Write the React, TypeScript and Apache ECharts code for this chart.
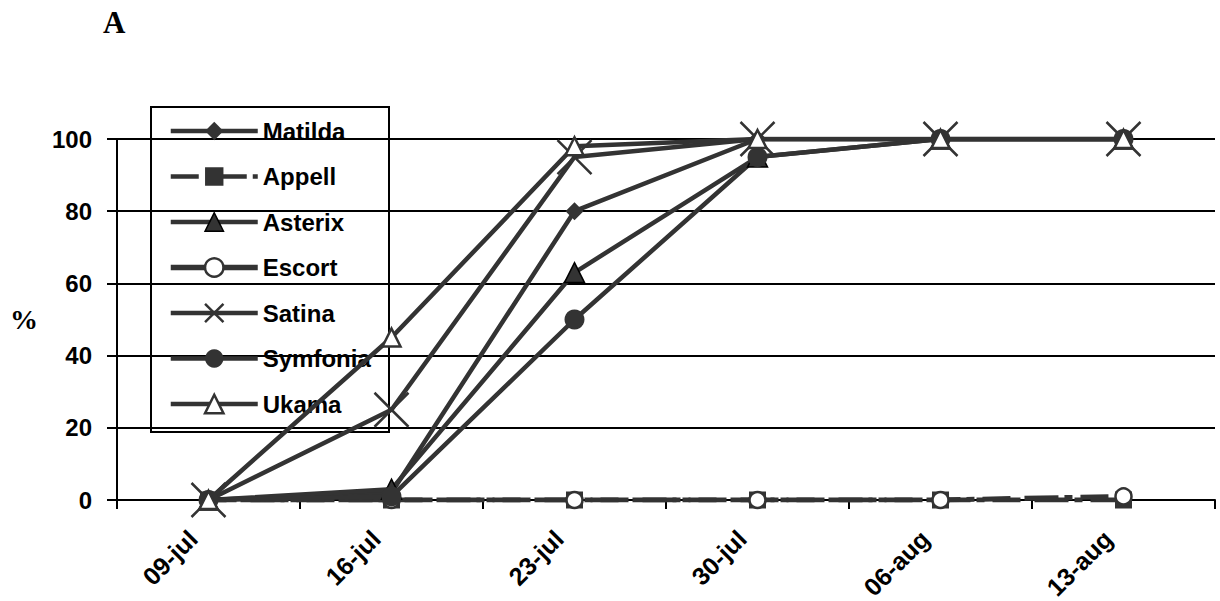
import React, { useEffect, useRef } from "react";
import * as echarts from "echarts";

// Sampling dates
const dates = ["09-jul", "16-jul", "23-jul", "30-jul", "06-aug", "13-aug"];

// Share (%) per variety on each date
const matilda = [0, 2, 80, 100, 100, 100];
const appell = [0, 0, 0, 0, 0, 0];
const asterix = [0, 3, 63, 95, 100, 100];
const escort = [0, 0, 0, 0, 0, 1];
const satina = [0, 25, 95, 100, 100, 100];
const symfonia = [0, 1, 50, 95, 100, 100];
const ukama = [0, 45, 98, 100, 100, 100];

const yTicks = [0, 20, 40, 60, 80, 100];

const INK = "#333333";
const FONT = "'Liberation Sans', Arial, sans-serif";
const SERIF = "'Liberation Serif', 'Times New Roman', serif";
const CROSS = "path://M0,0L10,10M10,0L0,10";
const DASH = [28, 14, 34, 6, 8, 8];

export default function App() {
  const ref = useRef<HTMLDivElement>(null);

  useEffect(() => {
    if (!ref.current) return;
    const chart = echarts.init(ref.current, null, { renderer: "svg" });

    const base = (name: string, data: number[]) => ({
      name,
      type: "line",
      data,
      z: 3,
      lineStyle: { color: INK, width: 4.5 },
      emphasis: { disabled: true },
    });

    chart.setOption({
      animation: false,
      title: {
        text: "A",
        left: 98,
        top: 2,
        textStyle: { fontFamily: SERIF, fontWeight: "bold", fontSize: 31, color: "#000" },
      },
      graphic: [
        {
          type: "rect",
          z: 0,
          shape: { x: 151, y: 107, width: 238, height: 325 },
          style: { fill: "#fff", stroke: "#000", lineWidth: 2 },
        },
        {
          type: "text",
          z: 5,
          x: 10,
          y: 305,
          style: {
            text: "%",
            fontFamily: SERIF,
            fontWeight: "bold",
            fontSize: 28,
            fill: "#000",
          },
        },
      ],
      legend: {
        orient: "vertical",
        left: 168,
        top: 119,
        padding: 0,
        z: 1,
        itemWidth: 87,
        itemHeight: 23,
        itemGap: 21.5,
        selectedMode: false,
        lineStyle: { width: 4.5, color: INK },
        itemStyle: { borderWidth: 2.5 },
        textStyle: { fontFamily: FONT, fontWeight: "bold", fontSize: 24, color: "#000" },
        data: [
          "Matilda",
          "Appell",
          { name: "Asterix", itemStyle: { borderWidth: 1.5 } },
          { name: "Escort", lineStyle: { type: "solid", width: 5.5 } },
          "Satina",
          "Symfonia",
          "Ukama",
        ],
      },
      grid: {
        left: 117,
        right: 5,
        top: 139,
        bottom: 101,
        containLabel: false,
        outerBoundsMode: "none",
      },
      xAxis: {
        type: "category",
        data: dates,
        boundaryGap: true,
        axisLine: { lineStyle: { color: "#000", width: 2 } },
        axisTick: { show: true, length: 9, lineStyle: { color: "#000", width: 2 } },
        axisLabel: {
          rotate: 45,
          margin: 19,
          padding: [0, 22, 0, 0],
          fontFamily: FONT,
          fontWeight: "bold",
          fontSize: 25,
          color: "#000",
        },
      },
      yAxis: {
        type: "value",
        min: 0,
        max: 100,
        interval: 20,
        axisLine: { show: true, lineStyle: { color: "#000", width: 2 } },
        axisTick: { show: true, length: 10, lineStyle: { color: "#000", width: 2 } },
        splitLine: { lineStyle: { color: "#000", width: 2 } },
        axisLabel: {
          margin: 25,
          fontFamily: FONT,
          fontWeight: "bold",
          fontSize: 24,
          color: "#000",
          formatter: (v: number) => (yTicks.includes(v) ? String(v) : ""),
        },
      },
      series: [
        {
          ...base("Matilda", matilda),
          symbol: "diamond",
          symbolSize: 18,
          itemStyle: { color: INK },
        },
        {
          ...base("Appell", appell),
          symbol: "rect",
          symbolSize: 17,
          lineStyle: { color: INK, width: 5, type: DASH },
          itemStyle: { color: INK },
        },
        {
          ...base("Asterix", asterix),
          symbol: "triangle",
          symbolSize: 20,
          itemStyle: { color: INK, borderColor: "#000", borderWidth: 1.5 },
        },
        {
          ...base("Escort", escort),
          symbol: "circle",
          symbolSize: 16,
          lineStyle: { color: INK, width: 5, type: DASH, dashOffset: 10 },
          itemStyle: { color: "#fff", borderColor: INK, borderWidth: 2.5 },
        },
        {
          ...base("Satina", satina),
          symbol: CROSS,
          symbolSize: 34,
          itemStyle: { color: "none", borderColor: INK, borderWidth: 2.5 },
        },
        {
          ...base("Symfonia", symfonia),
          symbol: "circle",
          symbolSize: 20,
          itemStyle: { color: INK },
        },
        {
          ...base("Ukama", ukama),
          symbol: "triangle",
          symbolSize: 18,
          itemStyle: { color: "#fff", borderColor: INK, borderWidth: 2.5 },
        },
      ],
    });

    return () => chart.dispose();
  }, []);

  return (
    <div
      ref={ref}
      style={{ position: "absolute", left: 0, top: 0, width: 1220, height: 601 }}
    />
  );
}
